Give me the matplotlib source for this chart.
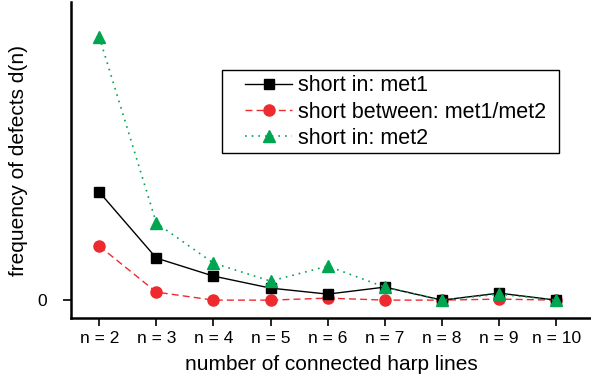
import matplotlib
matplotlib.use("Agg")
import matplotlib.pyplot as plt
from matplotlib.patches import Rectangle

plt.rcParams['font.family'] = ['Liberation Sans', 'DejaVu Sans']

categories = ["n = 2", "n = 3", "n = 4", "n = 5", "n = 6", "n = 7", "n = 8", "n = 9", "n = 10"]
met1 = [108, 42, 24, 12, 6, 13, 0, 7, 0]
between = [54, 8, 0, 0, 2, 0, 0, 1, 0]
met2 = [263, 77, 37, 19, 34, 13, 0, 6, 0]
labels = ["short in: met1", "short between: met1/met2", "short in: met2"]

W, H = 591, 381
fig = plt.figure(figsize=(W / 100, H / 100), dpi=100)
ax = fig.add_axes([0.120, 0.165, 0.88, 0.83])
x = list(range(2, 2 + len(categories)))

ax.plot(x, met1, color='black', lw=1.0, ls='-', marker='s', ms=7, mec='black', label=labels[0], zorder=3)
ax.plot(x, between, color='#ee2a2f', lw=1.0, ls=(0, (5, 3)), marker='o', ms=8, label=labels[1], zorder=2)
ax.plot(x, met2, color='#00a551', lw=1.2, ls=(0, (1, 3)), marker='^', ms=9, label=labels[2], zorder=4)

ax.set_xlim(1.504, 10.61)
ax.set_ylim(-18, 298)
ax.set_xticks(x)
ax.set_xticklabels(categories, fontsize=12.5)
ax.set_yticks([0])
ax.set_yticklabels(["0"], fontsize=12.5)
ax.tick_params(axis='both', direction='out', length=6, width=1.2)
ax.tick_params(axis='y', pad=11)
for s in ['top', 'right']:
    ax.spines[s].set_visible(False)
for s in ['left', 'bottom']:
    ax.spines[s].set_linewidth(1.8)

ax.set_xlabel("number of connected harp lines", fontsize=15, labelpad=6.5)
ax.set_ylabel("frequency of defects d(n)", fontsize=15)
ax.yaxis.set_label_coords(-0.083, 0.5)

# legend frame
fig.patches.append(Rectangle((222 / W, 1 - 153 / H), 337 / W, 83 / H, transform=fig.transFigure,
                             facecolor='white', edgecolor='black', lw=1.0, zorder=5))
leg = fig.legend(loc='center left', bbox_to_anchor=(245 / W, 1 - 112 / H), fontsize=15.5, frameon=False,
                 handlelength=2.2, handletextpad=0.28, borderpad=0, labelspacing=0.25, borderaxespad=0)
leg.set_zorder(6)

fig.savefig("out.png", dpi=100)
